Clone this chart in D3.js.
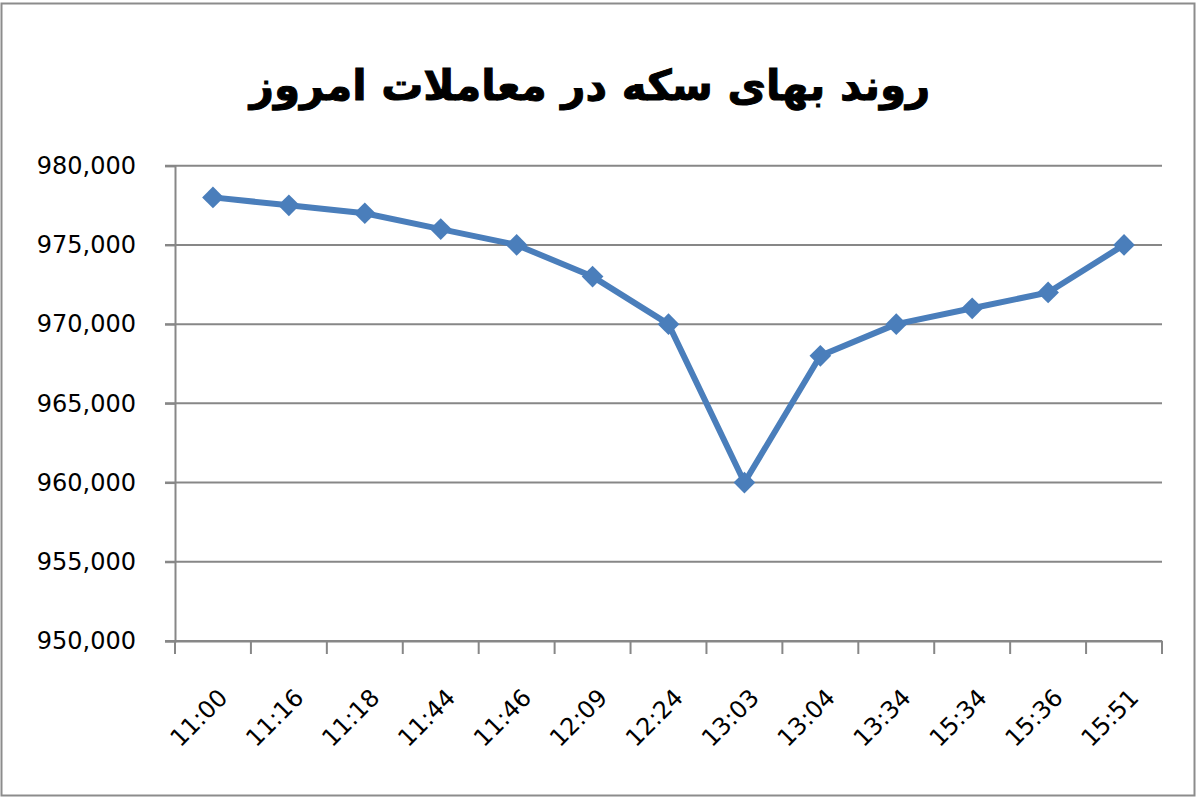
<!DOCTYPE html>
<html><head><meta charset="utf-8">
<script src="https://cdn.jsdelivr.net/npm/d3@7"></script>
<style>body{margin:0;background:#fff}svg{display:block}</style>
</head><body>
<svg id="c" width="1200" height="800"></svg>
<script>
const title = "روند بهای سکه در معاملات امروز";
const categories = ["11:00","11:16","11:18","11:44","11:46","12:09","12:24","13:03","13:04","13:34","15:34","15:36","15:51"];
const prices = [978000,977500,977000,976000,975000,973000,970000,960000,968000,970000,971000,972000,975000];
const yTicks = [950000,955000,960000,965000,970000,975000,980000];

const svg = d3.select("#c");
const plotLeft = 175, plotRight = 1162, plotTop = 165.7, plotBottom = 641;

svg.append("rect").attr("x",1.5).attr("y",3.5).attr("width",1193).attr("height",792)
  .attr("fill","#fff").attr("stroke","#8c8c8c").attr("stroke-width",2);

svg.append("text").attr("x",590).attr("y",100).attr("text-anchor","middle")
  .attr("font-family","DejaVu Sans").attr("font-weight","bold").attr("font-size",42)
  .attr("stroke","#000").attr("stroke-width",1)
  .attr("direction","rtl").attr("fill","#000").text(title);

const x = d3.scaleBand().domain(categories).range([plotLeft,plotRight]);
const y = d3.scaleLinear().domain([950000,980000]).range([plotBottom,plotTop]);
const fmt = d3.format(",");

// gridlines
svg.append("g").selectAll("line").data(yTicks).join("line")
  .attr("x1",plotLeft-10).attr("x2",plotRight).attr("y1",d=>y(d)).attr("y2",d=>y(d))
  .attr("stroke","#878787").attr("stroke-width",2);

// y axis
const ya = svg.append("g").attr("transform",`translate(${plotLeft},0)`)
  .call(d3.axisLeft(y).tickValues(yTicks).tickFormat(fmt).tickSize(10).tickPadding(29));
ya.select(".domain").attr("stroke","#878787").attr("stroke-width",2);
ya.selectAll(".tick line").attr("stroke","#878787").attr("stroke-width",2);
ya.selectAll("text").attr("font-family","DejaVu Sans").attr("font-size",24).attr("fill","#000");

// x axis
const xa = svg.append("g").attr("transform",`translate(0,${plotBottom})`)
  .call(d3.axisBottom(x).tickSize(0).tickSizeOuter(0));
xa.select(".domain").attr("stroke","#878787").attr("stroke-width",2);
xa.selectAll(".tick text")
  .attr("font-family","DejaVu Sans").attr("font-size",24).attr("fill","#000")
  .attr("text-anchor","end").attr("dy",0)
  .attr("transform","translate(14,56) rotate(-45)");
const boundaries = categories.map(c=>x(c)).concat([plotRight]);
svg.append("g").selectAll("line").data(boundaries).join("line")
  .attr("x1",d=>d).attr("x2",d=>d).attr("y1",plotBottom).attr("y2",plotBottom+13)
  .attr("stroke","#878787").attr("stroke-width",2);

const cx = d => x(d) + x.bandwidth()/2;
const line = d3.line().x((d,i)=>cx(categories[i])).y(d=>y(d));
svg.append("path").datum(prices).attr("d",line).attr("fill","none")
  .attr("stroke","#4a7ebb").attr("stroke-width",6).attr("stroke-linejoin","round");

svg.append("g").selectAll("path").data(prices).join("path")
  .attr("d",d3.symbol(d3.symbolDiamond2,300)())
  .attr("transform",(d,i)=>`translate(${cx(categories[i])},${y(d)})`)
  .attr("fill","#4a7ebb");
</script>
</body></html>
